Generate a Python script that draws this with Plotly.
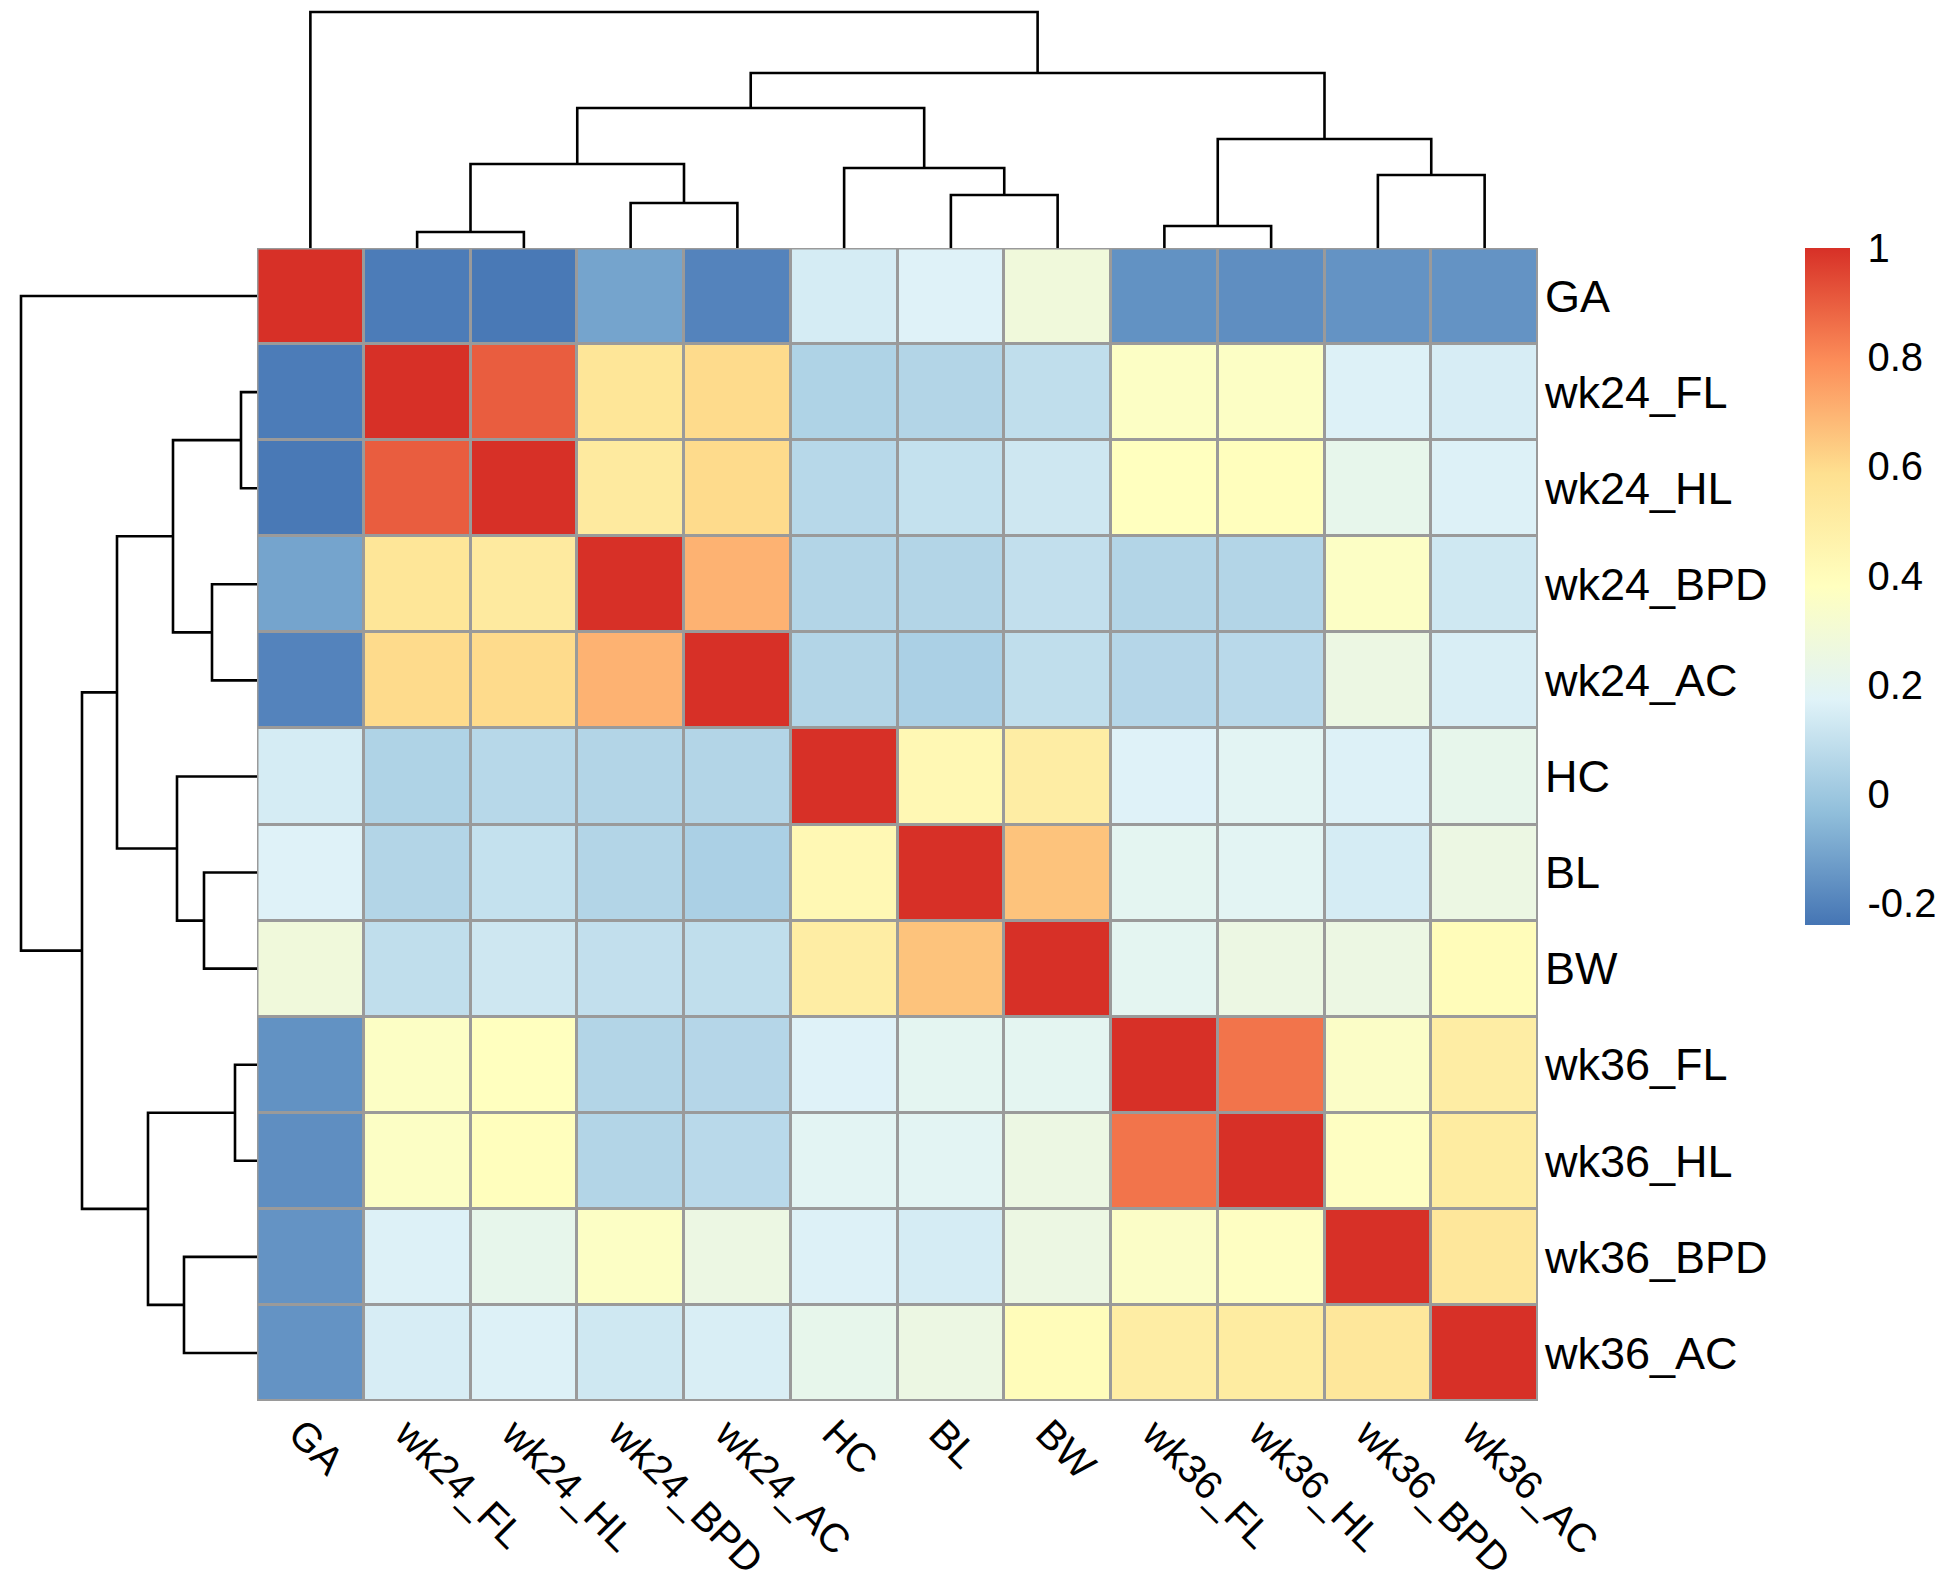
import plotly.graph_objects as go

# ---------------- data ----------------
labels = ["GA", "wk24_FL", "wk24_HL", "wk24_BPD", "wk24_AC", "HC", "BL", "BW",
          "wk36_FL", "wk36_HL", "wk36_BPD", "wk36_AC"]

row_GA       = [1.00, -0.22, -0.23, -0.11, -0.20, 0.145, 0.17, 0.28, -0.16, -0.17, -0.155, -0.155]
row_wk24_FL  = [-0.22, 1.00, 0.90, 0.55, 0.60, 0.045, 0.055, 0.09, 0.36, 0.36, 0.165, 0.15]
row_wk24_HL  = [-0.23, 0.90, 1.00, 0.52, 0.60, 0.065, 0.10, 0.125, 0.38, 0.39, 0.22, 0.165]
row_wk24_BPD = [-0.11, 0.55, 0.52, 1.00, 0.70, 0.055, 0.055, 0.095, 0.055, 0.055, 0.36, 0.13]
row_wk24_AC  = [-0.20, 0.60, 0.60, 0.70, 1.00, 0.055, 0.035, 0.09, 0.06, 0.07, 0.25, 0.155]
row_HC       = [0.145, 0.045, 0.065, 0.055, 0.055, 1.00, 0.43, 0.50, 0.17, 0.19, 0.165, 0.22]
row_BL       = [0.17, 0.055, 0.10, 0.055, 0.035, 0.43, 1.00, 0.66, 0.20, 0.19, 0.145, 0.25]
row_BW       = [0.28, 0.09, 0.125, 0.095, 0.09, 0.50, 0.66, 1.00, 0.20, 0.25, 0.25, 0.40]
row_wk36_FL  = [-0.16, 0.36, 0.38, 0.055, 0.06, 0.17, 0.20, 0.20, 1.00, 0.85, 0.35, 0.50]
row_wk36_HL  = [-0.17, 0.36, 0.39, 0.055, 0.07, 0.19, 0.19, 0.25, 0.85, 1.00, 0.37, 0.51]
row_wk36_BPD = [-0.155, 0.165, 0.22, 0.36, 0.25, 0.165, 0.145, 0.25, 0.35, 0.37, 1.00, 0.54]
row_wk36_AC  = [-0.155, 0.15, 0.165, 0.13, 0.155, 0.22, 0.25, 0.40, 0.50, 0.51, 0.54, 1.00]

corr = [row_GA, row_wk24_FL, row_wk24_HL, row_wk24_BPD, row_wk24_AC, row_HC, row_BL,
        row_BW, row_wk36_FL, row_wk36_HL, row_wk36_BPD, row_wk36_AC]

# hierarchical clustering merges (same for rows and columns):
# (left child, right child, height); leaves are 0..11, merges are 12+
merge_left   = [1, 8, 3, 6, 10, 5, 12, 13, 17, 19, 0]
merge_right  = [2, 9, 4, 7, 11, 15, 14, 16, 18, 20, 21]
merge_height = [16, 22, 45, 53, 73, 80, 84, 109, 140, 175, 236]

cbar_ticks = [-0.2, 0, 0.2, 0.4, 0.6, 0.8, 1]
cbar_ticktext = ["-0.2", "0", "0.2", "0.4", "0.6", "0.8", "1"]

# ---------------- figure ----------------
W, H = 1950, 1584
FONT = "Arial, Liberation Sans, sans-serif"
n = len(labels)

hm_x0, hm_x1 = 249 / W, 1530 / W
hm_y0, hm_y1 = 1 - 1393 / H, 1 - 240 / H

zmin, zmax = -0.24, 1.0
colors = ["#4575B4", "#91BFDB", "#E0F3F8", "#FFFFBF", "#FEE090", "#FC8D59", "#D73027"]
colorscale = [[i / 6, c] for i, c in enumerate(colors)]

fig = go.Figure()

fig.add_trace(go.Heatmap(
    z=corr, x=list(range(n)), y=list(range(n)),
    zmin=zmin, zmax=zmax, colorscale=colorscale,
    xgap=3, ygap=3, hoverinfo="skip",
    colorbar=dict(
        x=1797 / W, xanchor="left", xpad=0,
        y=hm_y1, yanchor="top", ypad=0,
        thickness=45, lenmode="pixels", len=677,
        outlinewidth=0,
        tickvals=cbar_ticks, ticktext=cbar_ticktext,
        ticks="outside", ticklen=10, tickcolor="rgba(0,0,0,0)",
        tickfont=dict(family=FONT, size=40, color="black"),
    ),
    xaxis="x", yaxis="y",
))


def dendro_segments(lefts, rights, heights, nleaves):
    pos = {i: float(i) for i in range(nleaves)}
    hgt = {i: 0.0 for i in range(nleaves)}
    segs = []
    for k, (a, b, h) in enumerate(zip(lefts, rights, heights)):
        idx = nleaves + k
        segs.append(((pos[a], hgt[a]), (pos[a], h), (pos[b], h), (pos[b], hgt[b])))
        pos[idx] = (pos[a] + pos[b]) / 2
        hgt[idx] = h
    return segs


segs = dendro_segments(merge_left, merge_right, merge_height, n)

# top (column) dendrogram
tx, ty = [], []
for s in segs:
    for (p, h) in s:
        tx.append(p)
        ty.append(h)
    tx.append(None)
    ty.append(None)
fig.add_trace(go.Scatter(x=tx, y=ty, mode="lines", line=dict(color="black", width=2.6),
                         hoverinfo="skip", showlegend=False, xaxis="x2", yaxis="y2"))

# left (row) dendrogram
lx, ly = [], []
for s in segs:
    for (p, h) in s:
        lx.append(h)
        ly.append(p)
    lx.append(None)
    ly.append(None)
fig.add_trace(go.Scatter(x=lx, y=ly, mode="lines", line=dict(color="black", width=2.6),
                         hoverinfo="skip", showlegend=False, xaxis="x3", yaxis="y3"))

grid_col = "#9A9A9A"
fig.add_shape(type="rect", xref="x", yref="y", x0=-0.5, x1=n - 0.5, y0=-0.5, y1=n - 0.5,
              fillcolor=grid_col, line=dict(width=0), layer="below")
fig.add_shape(type="rect", xref="x", yref="y", x0=-0.5, x1=n - 0.5, y0=-0.5, y1=n - 0.5,
              fillcolor="rgba(0,0,0,0)", line=dict(color=grid_col, width=3), layer="above")

fig.update_layout(
    width=W, height=H,
    margin=dict(l=0, r=0, t=0, b=0, autoexpand=False),
    paper_bgcolor="white", plot_bgcolor="white",
    showlegend=False,
    font=dict(family=FONT, color="black"),
    xaxis=dict(domain=[hm_x0, hm_x1], range=[-0.5, n - 0.5], automargin=False,
               tickvals=list(range(n)), ticktext=labels, tickangle=45,
               showgrid=False, zeroline=False, showline=False, ticks="",
               ticklabelstandoff=0, ticklabelshift=-10,
               tickfont=dict(family=FONT, size=40, color="black")),
    yaxis=dict(domain=[hm_y0, hm_y1], range=[n - 0.5, -0.5], side="right",
               automargin=False,
               tickvals=list(range(n)), ticktext=labels,
               showgrid=False, zeroline=False, showline=False, ticks="",
               ticklabelstandoff=6,
               tickfont=dict(family=FONT, size=45, color="black")),
    xaxis2=dict(domain=[hm_x0, hm_x1], range=[-0.5, n - 0.5], anchor="y2",
                visible=False),
    yaxis2=dict(domain=[hm_y1, 1.0], range=[0, 240], anchor="x2", visible=False),
    xaxis3=dict(domain=[0, hm_x0], range=[249, 0], anchor="y3", visible=False),
    yaxis3=dict(domain=[hm_y0, hm_y1], range=[n - 0.5, -0.5], anchor="x3",
                visible=False),
)

fig.write_html("out.html")
